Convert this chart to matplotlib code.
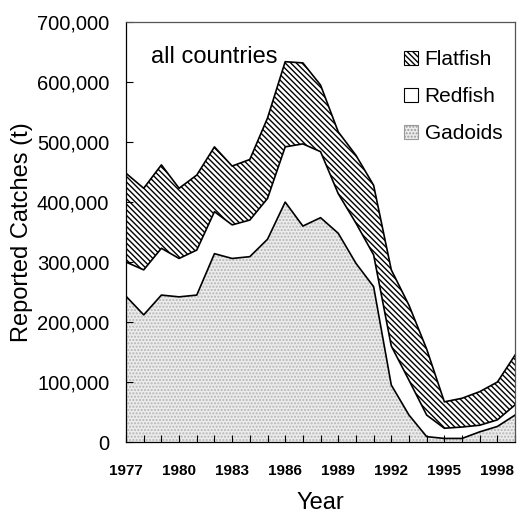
import numpy as np
import matplotlib
matplotlib.use('Agg')
import matplotlib.pyplot as plt
from matplotlib.patches import Rectangle
from matplotlib.ticker import FuncFormatter, MultipleLocator

plt.rcParams['font.family'] = ['Liberation Sans', 'DejaVu Sans']
plt.rcParams['hatch.linewidth'] = 1.0

years = np.arange(1977, 2000)

# reported catches in tonnes
gadoids = [243000, 212000, 245000, 242000, 245000, 314000, 306000, 309000, 338000, 400000,
           360000, 374000, 348000, 298000, 259000, 95000, 45000, 9000, 6000, 6000,
           17000, 26000, 45000]
redfish = [57000, 75000, 78000, 64000, 75000, 70000, 56000, 61000, 68000, 92000,
           137000, 110000, 66000, 67000, 53000, 65000, 58000, 36000, 17000, 19000,
           11000, 11000, 17000]
flatfish = [148000, 136000, 139000, 117000, 125000, 108000, 98000, 101000, 134000, 142000,
            135000, 111000, 103000, 113000, 116000, 127000, 125000, 110000, 44000, 48000,
            56000, 63000, 83000]

level1 = np.array(gadoids)
level2 = level1 + np.array(redfish)
level3 = level2 + np.array(flatfish)

fig = plt.figure(figsize=(5.24, 5.14), dpi=100)
ax = fig.add_axes([0.2405, 0.140, 0.7425, 0.817])

# fills (hatch colour comes from edgecolor, outlines drawn separately)
ax.fill_between(years, 0, level1, facecolor='#ececec', edgecolor='#b4b4b4',
                hatch='.....', linewidth=0)
ax.fill_between(years, level1, level2, facecolor='white', linewidth=0)
ax.fill_between(years, level2, level3, facecolor='white', edgecolor='black',
                hatch='\\\\\\\\\\\\', linewidth=0)

for lvl in (level1, level2, level3):
    ax.plot(years, lvl, color='black', lw=1.2)

ax.set_xlim(1977, 1999)
ax.set_ylim(0, 700000)
ax.xaxis.set_major_locator(MultipleLocator(3))
ax.xaxis.set_minor_locator(MultipleLocator(1))
ax.yaxis.set_major_locator(MultipleLocator(100000))
ax.yaxis.set_major_formatter(FuncFormatter(lambda v, p: f'{int(v):,}'))

ax.tick_params(axis='x', which='both', direction='in', length=5, width=0.8,
               pad=16, labelsize=11)
ax.tick_params(axis='y', direction='in', length=5, width=0.8, labelsize=14.5, pad=12)
for lab in ax.get_xticklabels():
    lab.set_fontweight('bold')

for s in ax.spines.values():
    s.set_linewidth(0.9)
ax.spines['top'].set_color('#555555')
ax.spines['right'].set_color('#555555')

ax.set_xlabel('Year', fontsize=17, va='top')
ax.xaxis.set_label_coords(0.5, -0.118)
ax.set_ylabel('Reported Catches (t)', fontsize=17)
ax.yaxis.set_label_coords(-0.24, 0.5)

ax.text(0.063, 0.918, 'all countries', transform=ax.transAxes, fontsize=17,
        va='center', ha='left')

handles = [
    Rectangle((0, 0), 1, 1, facecolor='white', edgecolor='black', hatch='\\\\\\\\\\\\', lw=0.8),
    Rectangle((0, 0), 1, 1, facecolor='white', edgecolor='black', lw=0.8),
    Rectangle((0, 0), 1, 1, facecolor='#ececec', edgecolor='#999999', hatch='.....', lw=0.8),
]
ax.legend(handles, ['Flatfish', 'Redfish', 'Gadoids'], loc='upper right',
          bbox_to_anchor=(1.015, 0.978), frameon=False, fontsize=15,
          handlelength=0.7, handleheight=0.7, handletextpad=0.3,
          labelspacing=0.87)

fig.savefig('out.png', dpi=100)
